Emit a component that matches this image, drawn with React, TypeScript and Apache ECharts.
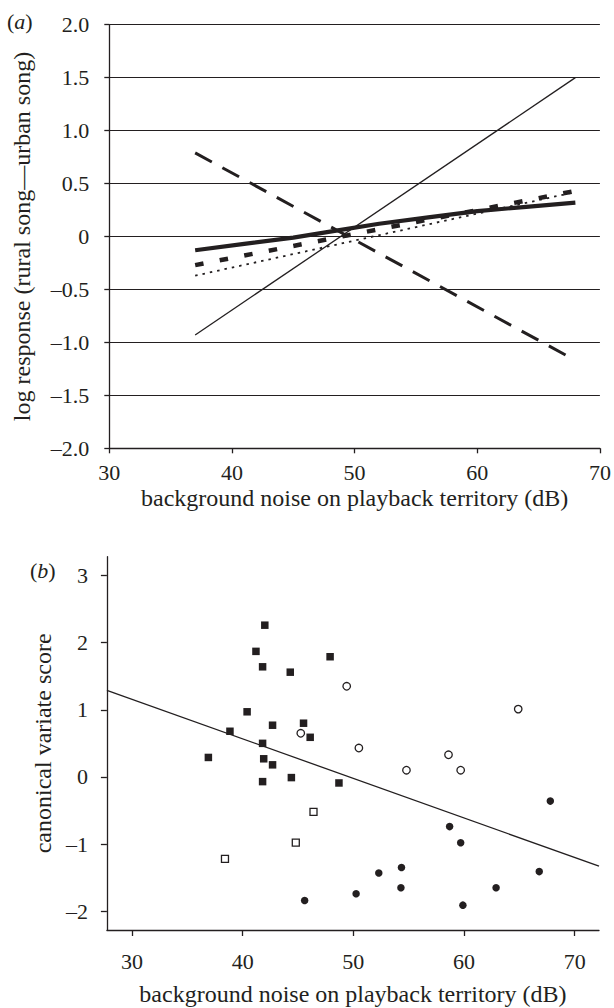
import React, { useEffect, useRef } from "react";
import * as echarts from "echarts";

// ---------- Panel (a) data ----------
const xTicksA = [30, 40, 50, 60, 70];
const yTicksA = [-2, -1.5, -1, -0.5, 0, 0.5, 1, 1.5, 2];
const thinSolid = [[37, -0.93], [68, 1.5]];
const longDashed = [[37, 0.79], [68, -1.17]];
const thickSolid = [[37, -0.13], [41, -0.07], [45, -0.01], [48.5, 0.055], [52, 0.12], [56, 0.18], [60, 0.24], [64, 0.28], [68, 0.32]];
const thickDashed = [[37, -0.27], [68, 0.43]];
const dotted = [[37, -0.37], [68, 0.42]];

// ---------- Panel (b) data ----------
const xTicksB = [30, 40, 50, 60, 70];
const yTicksB = [-2, -1, 0, 1, 2, 3];
const filledSquares = [
  [42.0, 2.26], [41.2, 1.87], [41.8, 1.64], [44.3, 1.56], [47.9, 1.79],
  [40.4, 0.97], [38.85, 0.68], [42.7, 0.77], [45.5, 0.8], [41.8, 0.5],
  [46.1, 0.59], [36.9, 0.29], [41.9, 0.27], [42.7, 0.18], [41.8, -0.07],
  [44.4, -0.01], [48.7, -0.09],
];
const openCircles = [[49.4, 1.35], [45.25, 0.65], [50.5, 0.43], [54.8, 0.1], [58.6, 0.33], [59.7, 0.1], [64.9, 1.01]];
const openSquares = [[46.4, -0.52], [44.8, -0.98], [38.4, -1.22]];
const filledCircles = [
  [67.8, -0.36], [58.7, -0.74], [59.7, -0.98], [45.6, -1.84], [50.25, -1.74],
  [52.3, -1.43], [54.35, -1.35], [54.3, -1.65], [59.9, -1.91], [62.9, -1.65], [66.8, -1.41],
];
const regressionLine = [[27.73, 1.29], [72.2, -1.33]];

const FONT = '"Liberation Serif", "Times New Roman", serif';
const INK = "#231f20";

const fmtA = (v: number) => (v === 0 ? "0" : (v < 0 ? "\u2013" : "") + Math.abs(v).toFixed(1));
const fmtB = (v: number) => (v === 0 ? "0" : (v < 0 ? "\u2013" : "") + Math.abs(v).toString());

export default function App() {
  const ref = useRef<HTMLDivElement>(null);
  useEffect(() => {
    if (!ref.current) return;
    const chart = echarts.init(ref.current, undefined, { renderer: "svg" });
    const axisLine = { show: true, onZero: false, lineStyle: { color: INK, width: 1.3 } };
    const lineSeries = (data: number[][], width: number, type: any) => ({
      type: "line",
      xAxisIndex: 0,
      yAxisIndex: 0,
      data,
      symbol: "none",
      showSymbol: false,
      silent: true,
      lineStyle: { color: INK, width, type, cap: "butt" },
    });
    const scatter = (data: number[][], symbol: string, size: number, filled: boolean) => ({
      type: "scatter",
      xAxisIndex: 1,
      yAxisIndex: 1,
      data,
      symbol,
      symbolSize: size,
      z: 5,
      itemStyle: filled
        ? { color: INK, opacity: 1 }
        : { color: "#ffffff", borderColor: INK, borderWidth: 1.3, opacity: 1 },
    });
    chart.setOption({
      animation: false,
      backgroundColor: "#ffffff",
      textStyle: { fontFamily: FONT, color: INK },
      grid: [
        { left: 109.3, width: 490.6, top: 24.7, height: 423.6 },
        { left: 106.9, width: 492.1, top: 556.7, height: 373.3 },
      ],
      graphic: [
        {
          type: "text",
          left: 7,
          top: 10,
          style: {
            text: "{n|(}{i|a}{n|)}",
            rich: {
              n: { fontFamily: FONT, fontSize: 22, fill: INK },
              i: { fontFamily: FONT, fontSize: 22, fontStyle: "italic", fill: INK },
            },
          },
        },
        {
          type: "text",
          left: 30,
          top: 559,
          style: {
            text: "{n|(}{i|b}{n|)}",
            rich: {
              n: { fontFamily: FONT, fontSize: 22, fill: INK },
              i: { fontFamily: FONT, fontSize: 22, fontStyle: "italic", fill: INK },
            },
          },
        },
      ],
      xAxis: [
        {
          gridIndex: 0,
          type: "value",
          min: 30,
          max: 70,
          interval: 10,
          axisLine,
          axisTick: { show: true, length: 5, customValues: xTicksA, lineStyle: { color: INK, width: 1.3 } },
          axisLabel: { customValues: xTicksA, fontSize: 22, margin: 13, color: INK, fontFamily: FONT },
          splitLine: { show: false },
          name: "background noise on playback territory (dB)",
          nameLocation: "middle",
          nameGap: 38,
          nameTextStyle: { fontSize: 24, color: INK, fontFamily: FONT },
        },
        {
          gridIndex: 1,
          type: "value",
          min: 27.73,
          max: 72.2,
          axisLine,
          axisTick: { show: true, length: 6, customValues: xTicksB, lineStyle: { color: INK, width: 1.3 } },
          axisLabel: { customValues: xTicksB, fontSize: 22, margin: 20, color: INK, fontFamily: FONT },
          splitLine: { show: false },
          name: "background noise on playback territory (dB)",
          nameLocation: "middle",
          nameGap: 52,
          nameTextStyle: { fontSize: 24, color: INK, fontFamily: FONT },
        },
      ],
      yAxis: [
        {
          gridIndex: 0,
          type: "value",
          min: -2,
          max: 2,
          interval: 0.5,
          axisLine,
          axisTick: { show: true, length: 5, customValues: yTicksA, lineStyle: { color: INK, width: 1.3 } },
          axisLabel: { customValues: yTicksA, fontSize: 22, margin: 20, color: INK, fontFamily: FONT, formatter: fmtA },
          splitLine: { show: true, lineStyle: { color: INK, width: 1.2 } },
          name: "log response (rural song\u2014urban song)",
          nameLocation: "middle",
          nameGap: 75,
          nameTextStyle: { fontSize: 24, color: INK, fontFamily: FONT },
        },
        {
          gridIndex: 1,
          type: "value",
          min: -2.28,
          max: 3.28,
          axisLine,
          axisTick: { show: true, length: 6, customValues: yTicksB, lineStyle: { color: INK, width: 1.3 } },
          axisLabel: { customValues: yTicksB, fontSize: 22, margin: 19, color: INK, fontFamily: FONT, formatter: fmtB },
          splitLine: { show: false },
          name: "canonical variate score",
          nameLocation: "middle",
          nameGap: 50,
          nameTextStyle: { fontSize: 24, color: INK, fontFamily: FONT },
        },
      ],
      series: [
        lineSeries(thinSolid, 1.3, "solid"),
        lineSeries(longDashed, 3, [19, 12]),
        lineSeries(dotted, 1.8, [2.5, 5]),
        lineSeries(thickDashed, 4.5, [8.5, 16.5]),
        lineSeries(thickSolid, 4.2, "solid"),
        {
          type: "line",
          xAxisIndex: 1,
          yAxisIndex: 1,
          data: regressionLine,
          symbol: "none",
          showSymbol: false,
          silent: true,
          z: 2,
          lineStyle: { color: INK, width: 1.3 },
        },
        scatter(filledSquares, "rect", 7.5, true),
        scatter(openSquares, "rect", 7, false),
        scatter(openCircles, "circle", 7.5, false),
        scatter(filledCircles, "circle", 7.5, true),
      ],
    });
    return () => chart.dispose();
  }, []);
  return (
    <div
      ref={ref}
      style={{ position: "fixed", left: 0, top: 0, width: 614, height: 1008, background: "#fff" }}
    />
  );
}
